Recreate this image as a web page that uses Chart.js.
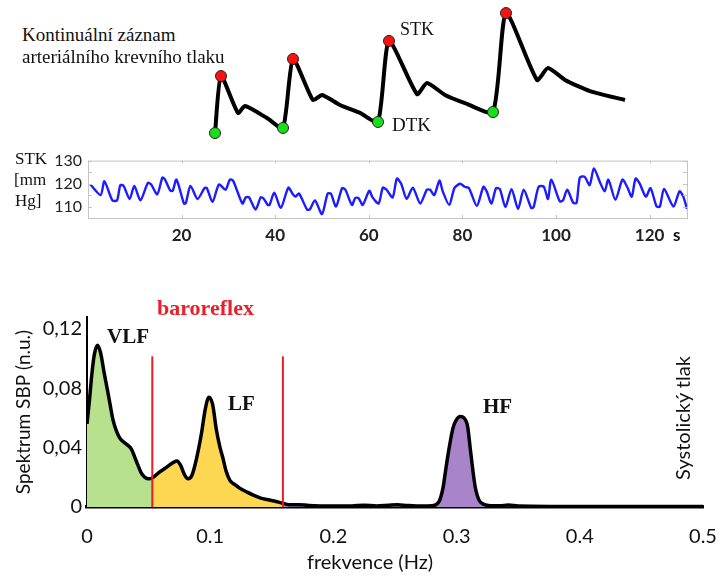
<!DOCTYPE html>
<html>
<head>
<meta charset="utf-8">
<script src="https://cdn.jsdelivr.net/npm/chart.js@4.4.1/dist/chart.umd.min.js"></script>
<style>
  body { margin: 0; background: #fff; }
  #wrap { position: relative; width: 720px; height: 576px; overflow: hidden; }
  canvas { position: absolute; }
  .t { position: absolute; white-space: nowrap; line-height: 1; color: #111; }
  .serif { font-family: "Liberation Serif", "DejaVu Serif", serif; }
  .sans { font-family: Lato, "Open Sans", sans-serif; }
</style>
</head>
<body>
<div id="wrap">
  <canvas id="wave" width="440" height="150" style="left:200px;top:0"></canvas>
  <canvas id="stk" width="720" height="105" style="left:0;top:145px"></canvas>
  <canvas id="spec" width="720" height="276" style="left:0;top:300px"></canvas>

  <div class="t serif" style="left:22px;top:25px;font-size:19px">Kontinuální záznam</div>
  <div class="t serif" style="left:22px;top:47px;font-size:19px">arteriálního krevního tlaku</div>
  <div class="t serif" style="left:400px;top:20px;font-size:18px">STK</div>
  <div class="t serif" style="left:392px;top:115px;font-size:19px">DTK</div>

  <div class="t serif" style="left:15px;top:150px;font-size:17px">STK</div>
  <div class="t serif" style="left:14px;top:171px;font-size:17px">[mm</div>
  <div class="t serif" style="left:15px;top:192px;font-size:17px">Hg]</div>
  <div class="t sans" style="left:673px;top:226px;font-size:17px;font-weight:bold">s</div>

  <div class="t serif" style="left:157px;top:297px;font-size:22px;font-weight:bold;color:#e8202a">baroreflex</div>
  <div class="t serif" style="left:107px;top:326px;font-size:21px;font-weight:bold">VLF</div>
  <div class="t serif" style="left:228px;top:393px;font-size:21px;font-weight:bold">LF</div>
  <div class="t serif" style="left:483px;top:396px;font-size:21px;font-weight:bold">HF</div>
  <div class="t sans" style="left:682px;top:418px;font-size:20px;transform:translate(-50%,-50%) rotate(-90deg)">Systolický tlak</div>
  <div class="t sans" style="left:370px;top:561px;font-size:20px;transform:translate(-50%,-50%)">frekvence (Hz)</div>
</div>

<script>
// schematic pressure wave (time s, pressure mmHg)
const waveTime = [0.15, 0.21, 0.38, 0.45, 0.67, 0.83, 0.93, 1.13, 1.22, 1.40, 1.60, 1.78, 1.89, 2.17, 2.27, 2.45, 2.65, 2.93, 3.06, 3.37, 3.48, 3.65, 3.90, 4.25]
const wavePress = [71.3, 109.3, 84.7, 89.3, 81.3, 74.7, 120.7, 93.3, 96.7, 90, 84.7, 78.7, 132.7, 97.3, 104.7, 96.7, 91.3, 85.3, 151.3, 106.7, 114.7, 106.7, 99.3, 93.3]
const sysTime = [0.21, 0.93, 1.89, 3.06]
const sysPress = [109.3, 120.7, 132.7, 151.3]
const diaTime = [0.15, 0.83, 1.78, 2.93]
const diaPress = [71.3, 74.7, 78.7, 85.3]

// beat-to-beat systolic pressure
const stkTime = [0.5, 2.7, 3.5, 5.2, 6.2, 6.9, 7.6, 8.9, 9.9, 11.2, 12.8, 13.5, 14.8, 15.9, 16.4, 17.6, 18.1, 18.9, 20.5, 20.9,
  21.9, 23.4, 24.9, 25.4, 26.6, 28.0, 29.4, 30.3, 31.0, 33.0, 33.7, 34.4, 35.8, 36.9, 37.5, 38.4, 38.8, 39.8, 41.2, 42.8,
  43.7, 44.3, 45.1, 46.8, 47.4, 48.5, 50.0, 51.2, 51.9, 53.0, 54.3, 55.0, 56.4, 57.1, 57.8, 58.7, 60.1, 60.8, 62.1, 63.0,
  63.8, 65.1, 66.0, 66.9, 68.1, 69.4, 71.0, 72.4, 73.1, 74.0, 75.1, 75.8, 77.2, 78.3, 79.5, 80.5, 81.4, 83.1, 84.5, 85.2,
  86.2, 87.2, 88.0, 89.2, 90.5, 91.9, 93.1, 94.7, 95.2, 96.3, 97.4, 98.3, 99.0, 100.8, 101.5, 102.4, 103.7, 104.4, 105.1, 106.1,
  107.2, 108.1, 109.4, 110.4, 111.2, 112.7, 114.2, 115.2, 116.2, 117.0, 117.9, 119.2, 120.2, 121.5, 122.2, 123.1, 125.1, 126.4, 127.2, 128.0]
const stkValue = [119.6, 115.0, 121.0, 112.7, 112.7, 119.3, 119.0, 113.3, 119.0, 112.7, 120.3, 119.6, 115.3, 122.6, 121.9, 116.9, 116.9, 121.7, 111.3, 111.5,
  119.0, 113.3, 118.0, 118.0, 112.0, 119.6, 117.3, 121.7, 121.3, 111.3, 114.0, 114.0, 108.7, 114.0, 113.5, 110.7, 110.7, 116.0, 109.4, 118.2,
  115.6, 114.3, 115.6, 108.7, 108.7, 112.7, 106.7, 115.6, 115.6, 110.0, 118.0, 117.3, 110.7, 113.7, 113.7, 110.7, 116.9, 114.0, 111.3, 118.2,
  117.3, 114.0, 122.2, 120.0, 113.3, 118.2, 111.3, 117.3, 117.3, 115.0, 121.3, 116.6, 110.7, 118.0, 119.9, 118.6, 118.0, 110.3, 118.6, 116.6,
  111.3, 118.0, 117.6, 109.8, 117.6, 109.0, 117.3, 109.4, 109.6, 118.6, 118.6, 113.3, 121.7, 112.3, 112.7, 117.3, 111.6, 111.6, 122.6, 123.0,
  119.3, 126.6, 120.6, 116.6, 121.7, 112.9, 121.7, 118.6, 114.3, 122.2, 120.0, 114.3, 118.0, 110.0, 110.0, 117.6, 110.0, 116.6, 114.3, 109.0]

// SBP spectrum
const freq = [0, 0.002, 0.004, 0.006, 0.0085, 0.011, 0.014, 0.017, 0.019, 0.021, 0.024, 0.027, 0.031, 0.036, 0.040, 0.044, 0.047, 0.050, 0.053,
  0.058, 0.065, 0.070, 0.073, 0.076, 0.079, 0.082, 0.085, 0.089, 0.093, 0.096, 0.099, 0.102, 0.105, 0.108, 0.110, 0.113, 0.116, 0.120,
  0.124, 0.130, 0.135, 0.141, 0.146, 0.152, 0.159, 0.165, 0.172, 0.180, 0.200, 0.215, 0.225, 0.235, 0.245, 0.252, 0.260, 0.272, 0.280,
  0.283, 0.286, 0.289, 0.2915, 0.294, 0.297, 0.300, 0.303, 0.306, 0.309, 0.311, 0.313, 0.315, 0.318, 0.322, 0.326, 0.335, 0.342, 0.350,
  0.380, 0.420, 0.500]
const power = [0.056, 0.072, 0.090, 0.103, 0.109, 0.104, 0.090, 0.077, 0.068, 0.059, 0.051, 0.046, 0.043, 0.039, 0.031, 0.023, 0.020, 0.019, 0.0195,
  0.023, 0.027, 0.030, 0.031, 0.028, 0.022, 0.019, 0.021, 0.033, 0.050, 0.066, 0.074, 0.069, 0.052, 0.040, 0.034, 0.024, 0.018, 0.015,
  0.0127, 0.010, 0.008, 0.006, 0.005, 0.004, 0.0025, 0.0015, 0.0016, 0.001, 0.0006, 0.0007, 0.0012, 0.0007, 0.0012, 0.0015, 0.001, 0.0006, 0.0008,
  0.0015, 0.004, 0.013, 0.027, 0.040, 0.053, 0.059, 0.061, 0.060, 0.054, 0.040, 0.026, 0.014, 0.005, 0.0018, 0.001, 0.0008, 0.0013, 0.0006,
  0.0004, 0.0003, 0.0003]
const bandEdges = [0, 0.053, 0.159, 0.5]
const bandColors = ['rgb(183,225,140)', 'rgb(253,214,82)', 'rgb(170,132,202)']
const baroLines = [0.053, 0.159]
const baroTop = 0.1015

const sans = 'Lato, "Open Sans", sans-serif'

function pts(xs, ys) {
  return xs.map((x, i) => ({ x: x, y: ys[i] }))
}

// --- pressure wave schematic
new Chart(document.getElementById('wave').getContext('2d'), {
  type: 'line',
  data: {
    datasets: [
      {
        data: pts(sysTime, sysPress),
        showLine: false,
        pointRadius: 5.5,
        pointBackgroundColor: '#ff1010',
        pointBorderColor: '#222',
        pointBorderWidth: 1,
      },
      {
        data: pts(diaTime, diaPress),
        showLine: false,
        pointRadius: 5.5,
        pointBackgroundColor: '#18e018',
        pointBorderColor: '#222',
        pointBorderWidth: 1,
      },
      {
        data: pts(waveTime, wavePress),
        borderColor: '#000',
        borderWidth: 4,
        pointRadius: 0,
        tension: 0.2,
      },
    ],
  },
  options: {
    responsive: false,
    animation: false,
    clip: false,
    layout: { padding: 0, autoPadding: false },
    plugins: { legend: { display: false }, tooltip: { enabled: false } },
    scales: {
      x: { type: 'linear', min: 0, max: 4.4, display: false },
      y: { min: 60, max: 160, display: false },
    },
  },
})

// frame + inward tick marks for the STK plot
const framePlugin = {
  id: 'frame',
  afterDraw(chart) {
    const { ctx, chartArea: a, scales } = chart
    ctx.save()
    ctx.strokeStyle = '#c4c4c4'
    ctx.lineWidth = 1
    ctx.strokeRect(a.left + 0.5, a.top + 0.5, a.right - a.left, a.bottom - a.top)
    ctx.beginPath()
    scales.x.ticks.forEach(t => {
      const px = Math.round(scales.x.getPixelForValue(t.value)) + 0.5
      ctx.moveTo(px, a.top); ctx.lineTo(px, a.top + 3)
      ctx.moveTo(px, a.bottom); ctx.lineTo(px, a.bottom - 3)
    })
    scales.y.ticks.forEach(t => {
      const py = Math.round(scales.y.getPixelForValue(t.value)) + 0.5
      ctx.moveTo(a.left, py); ctx.lineTo(a.left + 4, py)
      ctx.moveTo(a.right, py); ctx.lineTo(a.right - 4, py)
    })
    ctx.stroke()
    ctx.restore()
  },
}

new Chart(document.getElementById('stk').getContext('2d'), {
  type: 'line',
  data: {
    datasets: [
      {
        data: pts(stkTime, stkValue),
        borderColor: 'rgb(28,28,255)',
        borderWidth: 2.4,
        pointRadius: 0,
        tension: 0.25,
      },
    ],
  },
  options: {
    responsive: false,
    animation: false,
    layout: { padding: { top: 10, right: 33, left: 0, bottom: 0 } },
    plugins: { legend: { display: false }, tooltip: { enabled: false } },
    scales: {
      x: {
        type: 'linear',
        min: 0,
        max: 128,
        grid: { display: false, drawTicks: false },
        border: { display: false },
        afterFit: s => { s.height = 32 },
        ticks: {
          stepSize: 20,
          includeBounds: false,
          padding: 7,
          color: '#222',
          font: { family: sans, size: 17, weight: 'bold' },
          callback: v => (v === 0 ? '' : String(v)),
        },
      },
      y: {
        min: 105,
        max: 130,
        grid: { display: false, drawTicks: false },
        border: { display: false },
        afterFit: s => { s.width = 88 },
        ticks: {
          stepSize: 5,
          autoSkip: false,
          padding: 6,
          color: '#222',
          font: { family: sans, size: 16 },
          callback: v => (Math.round(v) % 10 === 0 ? String(v) : ''),
        },
      },
    },
  },
  plugins: [framePlugin],
})

// --- spectrum
const spectrum = pts(freq, power)
const bandSets = bandColors.map((c, i) => ({
  data: spectrum.filter(p => p.x >= bandEdges[i] && p.x <= bandEdges[i + 1]),
  backgroundColor: c,
  borderWidth: 0,
  pointRadius: 0,
  fill: 'origin',
  cubicInterpolationMode: 'monotone',
}))
const baroSets = baroLines.map(f => ({
  data: [{ x: f, y: 0 }, { x: f, y: baroTop }],
  borderColor: '#ea1c24',
  borderWidth: 2,
  pointRadius: 0,
}))

new Chart(document.getElementById('spec').getContext('2d'), {
  type: 'line',
  data: {
    datasets: [
      ...baroSets,
      {
        data: spectrum,
        borderColor: '#000',
        borderWidth: 3.5,
        pointRadius: 0,
        cubicInterpolationMode: 'monotone',
      },
      ...bandSets,
    ],
  },
  options: {
    responsive: false,
    animation: false,
    layout: { padding: { top: 15, right: 17, left: 0, bottom: 0 } },
    plugins: { legend: { display: false }, tooltip: { enabled: false } },
    scales: {
      x: {
        type: 'linear',
        min: 0,
        max: 0.5,
        // tick marks are not drawn (grid hidden); tickLength only spaces the labels
        grid: { display: false, drawTicks: true, tickLength: 18 },
        border: { display: true, color: '#000', width: 3.5 },
        afterFit: s => { s.height = 69 },
        ticks: {
          stepSize: 0.1,
          padding: 0,
          color: '#111',
          font: { family: sans, size: 20 },
          callback: v => (v === 0 ? '0' : v.toFixed(1)),
        },
      },
      y: {
        min: 0,
        max: 0.128,
        grid: { display: false, drawTicks: false },
        border: { display: true, color: '#000', width: 2 },
        afterFit: s => { s.width = 87 },
        title: {
          display: true,
          text: 'Spektrum SBP (n.u.)',
          color: '#111',
          font: { family: sans, size: 19 },
          padding: { top: 12, bottom: 0 },
        },
        ticks: {
          stepSize: 0.04,
          includeBounds: false,
          padding: 5,
          color: '#111',
          font: { family: sans, size: 20 },
          callback: v => (v === 0 ? '0' : v.toFixed(2).replace('.', ',')),
        },
      },
    },
  },
})
</script>
</body>
</html>
